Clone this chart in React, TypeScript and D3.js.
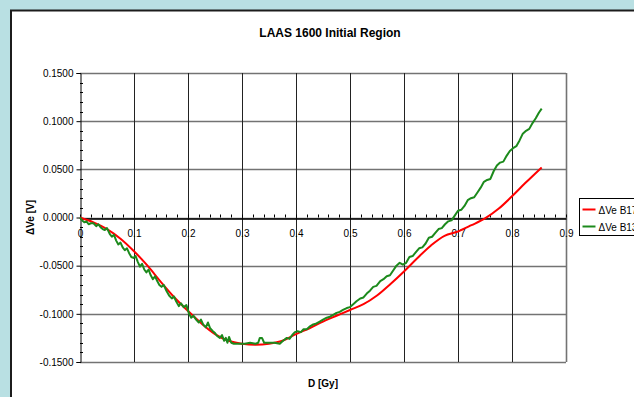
import { useEffect, useRef } from 'react';
import * as d3 from 'd3';

const TITLE = 'LAAS 1600 Initial Region';
const X_LABEL = 'D [Gy]';
const Y_LABEL = 'ΔVe [V]';

const xTicks = [0, 0.1, 0.2, 0.3, 0.4, 0.5, 0.6, 0.7, 0.8, 0.9];
const yTicks = [0.15, 0.1, 0.05, 0, -0.05, -0.1, -0.15];

const seriesNames = ['ΔVe B17', 'ΔVe B13'];
const seriesColors = ['#ff0000', '#1c8a1c'];

// B17: smooth response
const b17: [number, number][] = [
  [0, 0], [0.025, -0.005], [0.05, -0.012], [0.075, -0.022], [0.1, -0.035],
  [0.125, -0.05], [0.15, -0.067], [0.175, -0.083], [0.2, -0.097], [0.225, -0.11],
  [0.25, -0.121], [0.275, -0.128], [0.3, -0.131], [0.325, -0.132], [0.35, -0.131],
  [0.375, -0.128], [0.4, -0.121], [0.425, -0.115], [0.45, -0.108], [0.475, -0.102],
  [0.5, -0.096], [0.525, -0.09], [0.55, -0.081], [0.575, -0.069], [0.6, -0.056],
  [0.625, -0.042], [0.65, -0.029], [0.675, -0.019], [0.7, -0.0145], [0.725, -0.008],
  [0.75, -0.001], [0.775, 0.009], [0.8, 0.022], [0.825, 0.036], [0.855, 0.052],
];

// B13: noisy readout
const b13: [number, number][] = [
  [0, 0], [0.004, -0.003], [0.008, -0.005], [0.012, -0.004], [0.016, -0.007],
  [0.02, -0.006], [0.025, -0.006], [0.03, -0.009], [0.034, -0.007], [0.038, -0.01],
  [0.042, -0.012], [0.046, -0.013], [0.05, -0.011], [0.055, -0.017], [0.059, -0.02],
  [0.063, -0.018], [0.067, -0.024], [0.071, -0.028], [0.075, -0.026], [0.079, -0.031],
  [0.083, -0.034], [0.087, -0.032], [0.091, -0.037], [0.095, -0.041], [0.099, -0.042],
  [0.103, -0.04], [0.107, -0.046], [0.111, -0.051], [0.115, -0.048], [0.119, -0.054],
  [0.123, -0.057], [0.127, -0.054], [0.131, -0.06], [0.135, -0.064], [0.139, -0.061],
  [0.143, -0.066], [0.147, -0.07], [0.151, -0.072], [0.155, -0.07], [0.16, -0.076],
  [0.165, -0.081], [0.17, -0.084], [0.174, -0.082], [0.178, -0.087], [0.183, -0.092],
  [0.187, -0.089], [0.192, -0.093], [0.197, -0.091], [0.202, -0.1], [0.206, -0.104],
  [0.21, -0.102], [0.215, -0.106], [0.22, -0.109], [0.224, -0.106], [0.228, -0.111],
  [0.233, -0.114], [0.237, -0.109], [0.241, -0.115], [0.246, -0.118], [0.25, -0.12],
  [0.254, -0.123], [0.259, -0.125], [0.263, -0.122], [0.267, -0.128], [0.27, -0.125],
  [0.273, -0.13], [0.276, -0.124], [0.28, -0.13], [0.285, -0.131], [0.295, -0.131],
  [0.305, -0.131], [0.315, -0.13], [0.325, -0.131], [0.33, -0.13], [0.333, -0.125],
  [0.337, -0.125], [0.341, -0.13], [0.35, -0.13], [0.36, -0.13], [0.37, -0.131],
  [0.376, -0.128], [0.383, -0.125], [0.388, -0.126], [0.393, -0.122], [0.398, -0.119],
  [0.403, -0.118], [0.409, -0.119], [0.414, -0.116], [0.42, -0.116], [0.426, -0.113],
  [0.432, -0.111], [0.438, -0.11], [0.444, -0.108], [0.45, -0.106], [0.457, -0.104],
  [0.463, -0.103], [0.469, -0.101], [0.475, -0.099], [0.481, -0.098], [0.487, -0.096],
  [0.494, -0.094], [0.5, -0.093], [0.506, -0.09], [0.512, -0.087], [0.519, -0.084],
  [0.525, -0.083], [0.531, -0.079], [0.537, -0.076], [0.543, -0.072], [0.549, -0.071],
  [0.556, -0.066], [0.562, -0.064], [0.568, -0.061], [0.574, -0.06], [0.58, -0.055],
  [0.586, -0.05], [0.592, -0.047], [0.598, -0.049], [0.604, -0.047], [0.61, -0.041],
  [0.616, -0.04], [0.622, -0.036], [0.628, -0.032], [0.634, -0.031], [0.64, -0.027],
  [0.646, -0.021], [0.652, -0.02], [0.658, -0.016], [0.664, -0.012], [0.67, -0.011],
  [0.676, -0.007], [0.682, -0.004], [0.688, -0.003], [0.694, 0.002], [0.7, 0.007],
  [0.706, 0.008], [0.712, 0.012], [0.718, 0.018], [0.724, 0.02], [0.73, 0.021],
  [0.736, 0.026], [0.742, 0.031], [0.748, 0.037], [0.754, 0.039], [0.76, 0.04],
  [0.766, 0.048], [0.772, 0.054], [0.778, 0.057], [0.784, 0.058], [0.79, 0.064],
  [0.796, 0.069], [0.802, 0.072], [0.808, 0.074], [0.814, 0.08], [0.82, 0.087],
  [0.826, 0.09], [0.832, 0.092], [0.838, 0.098], [0.844, 0.103], [0.85, 0.109],
  [0.855, 0.113],
];

export default function App() {
  const ref = useRef<SVGSVGElement | null>(null);

  useEffect(() => {
    if (!ref.current) return;
    const svg = d3.select(ref.current);
    svg.selectAll('*').remove();

    const W = 634, H = 397;
    const font = 'Liberation Sans, Arial, sans-serif';

    svg.append('rect').attr('width', W).attr('height', H).attr('fill', '#b9e0e3');
    svg.append('rect')
      .attr('x', 11).attr('y', 10.5).attr('width', W).attr('height', H)
      .attr('fill', '#fff').attr('stroke', '#1c1c1c').attr('stroke-width', 2);

    const x = d3.scaleLinear().domain([0, 0.9]).range([80, 566]);
    const y = d3.scaleLinear().domain([-0.15, 0.15]).range([362, 73]);

    // title
    svg.append('text')
      .attr('x', 330).attr('y', 37)
      .attr('text-anchor', 'middle')
      .attr('font-family', font).attr('font-weight', 'bold').attr('font-size', 12)
      .text(TITLE);

    // horizontal grid
    svg.append('g').selectAll('line')
      .data(yTicks)
      .join('line')
      .attr('x1', x(0)).attr('x2', x(0.9))
      .attr('y1', d => Math.round(y(d)) + 0.5).attr('y2', d => Math.round(y(d)) + 0.5)
      .attr('stroke', '#737373').attr('stroke-width', 1.6);

    // vertical grid
    svg.append('g').selectAll('line')
      .data(xTicks.slice(1))
      .join('line')
      .attr('x1', d => Math.round(x(d)) + 0.5).attr('x2', d => Math.round(x(d)) + 0.5)
      .attr('y1', y(0.15)).attr('y2', y(-0.15))
      .attr('stroke', d => (d === 0.9 ? '#737373' : '#222'))
      .attr('stroke-width', d => (d === 0.9 ? 1.6 : 1));

    // y axis
    const yAxis = svg.append('g')
      .attr('transform', `translate(${Math.round(x(0)) + 0.5},0)`)
      .call(d3.axisLeft(y).tickValues(yTicks).tickSize(4).tickPadding(3)
        .tickFormat(d => d3.format('.4f')(d as number).replace('−', '-')));
    yAxis.select('.domain').attr('stroke', '#000');
    yAxis.selectAll('text').attr('font-family', font).attr('font-size', 10).attr('fill', '#000');
    const yMinor = d3.range(-15, 16).map(i => i / 100).filter(v => !yTicks.some(t => Math.abs(t - v) < 1e-9));
    svg.append('g').selectAll('line')
      .data(yMinor)
      .join('line')
      .attr('x1', x(0)).attr('x2', x(0) + 3)
      .attr('y1', d => Math.round(y(d)) + 0.5).attr('y2', d => Math.round(y(d)) + 0.5)
      .attr('stroke', '#000');

    // x axis at zero
    const xAxis = svg.append('g')
      .attr('transform', `translate(0,${Math.round(y(0)) + 0.5})`)
      .call(d3.axisBottom(x).tickValues(xTicks).tickSize(0).tickPadding(11)
        .tickFormat(d => d3.format('')(d as number)));
    xAxis.select('.domain').attr('stroke', '#000').attr('stroke-width', 1.5);
    xAxis.selectAll('text').attr('font-family', font).attr('font-size', 10).attr('fill', '#000');
    const xMinor = d3.range(0, 46).map(i => i / 50);
    svg.append('g').selectAll('line')
      .data(xMinor)
      .join('line')
      .attr('x1', d => Math.round(x(d)) + 0.5).attr('x2', d => Math.round(x(d)) + 0.5)
      .attr('y1', y(0) - 3).attr('y2', y(0))
      .attr('stroke', '#000');

    // series
    const smooth = d3.line<[number, number]>().x(d => x(d[0])).y(d => y(d[1])).curve(d3.curveCatmullRom);
    const jagged = d3.line<[number, number]>().x(d => x(d[0])).y(d => y(d[1]));
    svg.append('path').datum(b17)
      .attr('d', smooth)
      .attr('fill', 'none').attr('stroke', seriesColors[0]).attr('stroke-width', 2);
    svg.append('path').datum(b13)
      .attr('d', jagged)
      .attr('fill', 'none').attr('stroke', seriesColors[1]).attr('stroke-width', 2)
      .attr('stroke-linejoin', 'round');

    // axis titles
    svg.append('text')
      .attr('x', 323).attr('y', 387)
      .attr('text-anchor', 'middle')
      .attr('font-family', font).attr('font-weight', 'bold').attr('font-size', 10)
      .text(X_LABEL);
    svg.append('text')
      .attr('transform', `translate(34,${y(0)}) rotate(-90)`)
      .attr('text-anchor', 'middle')
      .attr('font-family', font).attr('font-weight', 'bold').attr('font-size', 10)
      .text(Y_LABEL);

    // legend
    const lg = svg.append('g').attr('transform', 'translate(579.5,198.5)');
    lg.append('rect').attr('width', 80).attr('height', 37)
      .attr('fill', '#fff').attr('stroke', '#000').attr('stroke-width', 1);
    seriesNames.forEach((name, i) => {
      const cy = 11 + i * 17;
      lg.append('line').attr('x1', 3).attr('x2', 16).attr('y1', cy).attr('y2', cy)
        .attr('stroke', seriesColors[i]).attr('stroke-width', 2);
      lg.append('text').attr('x', 19).attr('y', cy + 4)
        .attr('font-family', font).attr('font-size', 10).attr('fill', '#000')
        .text(name);
    });
  }, []);

  return (
    <>
      <style>{'body{margin:0}'}</style>
      <svg ref={ref} width={634} height={397} style={{ display: 'block' }} />
    </>
  );
}
